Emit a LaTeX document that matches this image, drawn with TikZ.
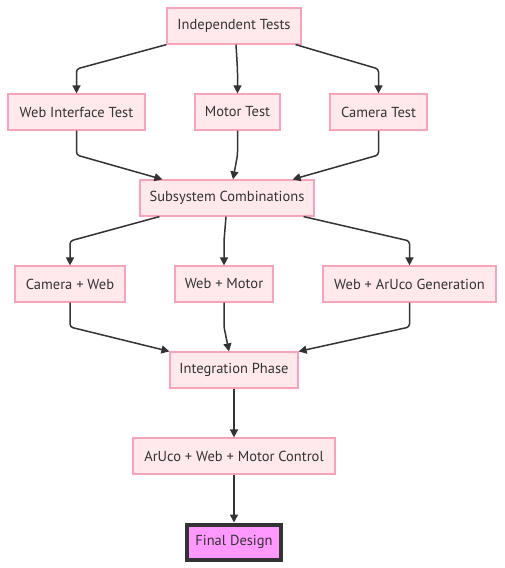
\documentclass[tikz,border=0pt]{standalone}
\usepackage{fontspec}
\setmainfont{PT Sans}
\usetikzlibrary{arrows.meta}
\definecolor{boxfill}{HTML}{FFE9EC}
\definecolor{boxline}{HTML}{F7A3B8}
\definecolor{ink}{HTML}{333333}
\definecolor{finalfill}{HTML}{FF99FF}

\begin{document}
\begin{tikzpicture}[x=1pt, y=-1pt, line width=1.5pt, rounded corners=3pt,
        box/.style = {draw=boxline, fill=boxfill, line width=1.2pt, rounded corners=0pt, minimum height=36pt, text=ink, font=\fontsize{14.5}{17}\selectfont},
        final/.style = {box, draw=ink, fill=finalfill, line width=4pt, minimum height=35pt},
        flow/.style = {draw=ink, -{Triangle[length=8pt, width=8pt]}}]
        \useasboundingbox (0,0) rectangle (504,568);

        \node[box, minimum width=134pt] (ind) at (234,26) {Independent Tests};
        \node[box, minimum width=137pt] (webt) at (76.5,112) {Web Interface Test};
        \node[box, minimum width=85pt] (mot) at (237.5,112) {Motor Test};
        \node[box, minimum width=97pt] (camt) at (378.5,112) {Camera Test};
        \node[box, minimum width=174pt] (sub) at (227,198) {Subsystem Combinations};
        \node[box, minimum width=110pt] (cw) at (70,284) {Camera + Web};
        \node[box, minimum width=98pt] (wm) at (224,284) {Web + Motor};
        \node[box, minimum width=173pt] (wa) at (409.5,284) {Web + ArUco Generation};
        \node[box, minimum width=128pt] (int) at (234,370) {Integration Phase};
        \node[box, minimum width=202pt] (awm) at (234,456) {ArUco + Web + Motor Control};
        \node[final, minimum width=94pt] (fin) at (234,542) {Final Design};

        \draw[flow] (ind.south west) -- (webt.north |- 0,69) -- (webt.north);
        \draw[flow] ([xshift=2pt]ind.south) -- (mot.north |- 0,70) -- (mot.north);
        \draw[flow] ([xshift=-6pt]ind.south east) -- (camt.north |- 0,69) -- (camt.north);

        \draw[flow] (webt.south) -- (webt.south |- 0,155) -- ([xshift=23pt]sub.north west);
        \draw[flow] (mot.south) -- (mot.south |- 0,155) -- ([xshift=6pt]sub.north);
        \draw[flow] (camt.south) -- (camt.south |- 0,155) -- ([xshift=-22pt]sub.north east);

        \draw[flow] ([xshift=20pt]sub.south west) -- (cw.north |- 0,241) -- (cw.north);
        \draw[flow] ([xshift=-1pt]sub.south) -- (wm.north |- 0,241) -- (wm.north);
        \draw[flow] ([xshift=-11pt]sub.south east) -- (wa.north |- 0,241) -- (wa.north);

        \draw[flow] (cw.south) -- (cw.south |- 0,327) -- (int.north west);
        \draw[flow] (wm.south) -- (wm.south |- 0,327) -- ([xshift=-5pt]int.north);
        \draw[flow] (wa.south) -- (wa.south |- 0,327) -- (int.north east);

        \draw[flow] (int) -- (awm);
        \draw[flow] (awm) -- (fin);

    \end{tikzpicture}
\end{document}
